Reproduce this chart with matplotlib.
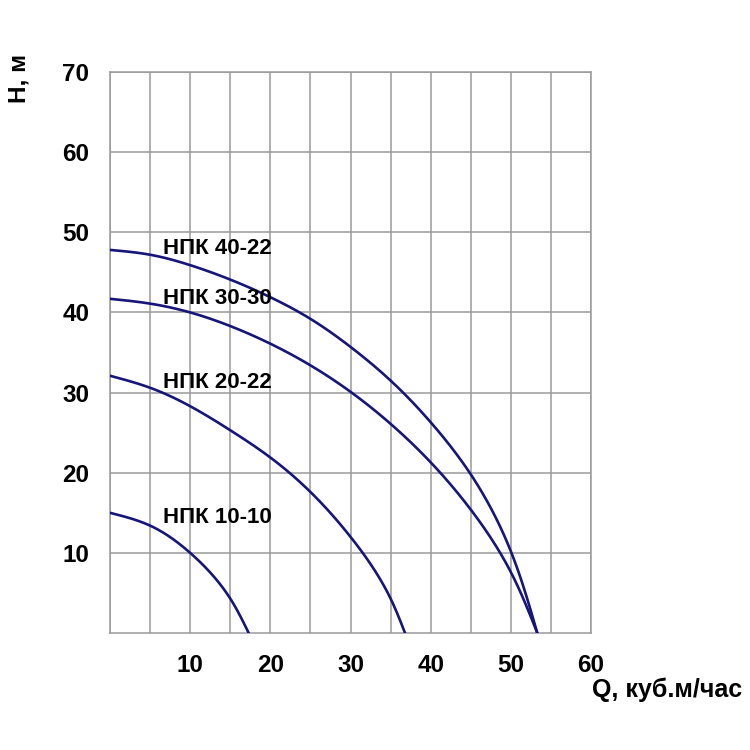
import numpy as np
import matplotlib.pyplot as plt
from matplotlib.ticker import MultipleLocator

plt.rcParams['font.family'] = ['Liberation Sans', 'DejaVu Sans']

# pump curves: Q (m3/h) -> H (m)
q_10_10 = [0, 5, 10, 15, 17.3]
h_10_10 = [15.0, 13.4, 10.0, 4.3, 0]

q_20_22 = [0, 5, 10, 15, 20, 25, 30, 35, 36.8]
h_20_22 = [32.1, 30.6, 28.3, 25.3, 21.9, 17.6, 12.0, 4.3, 0]

q_30_30 = [0, 5, 10, 15, 20, 25, 30, 35, 40, 45, 50, 53.3]
h_30_30 = [41.7, 41.1, 40.0, 38.3, 36.1, 33.4, 30.1, 26.1, 21.3, 15.4, 7.6, 0]

q_40_22 = [0, 5, 10, 15, 20, 25, 30, 35, 40, 45, 50, 53.3]
h_40_22 = [47.8, 47.2, 45.9, 44.1, 41.9, 39.2, 35.7, 31.5, 26.3, 19.8, 10.2, 0]

names = ['НПК 40-22', 'НПК 30-30', 'НПК 20-22', 'НПК 10-10']
label_pos = [(6.6, 48.0), (6.6, 41.7), (6.6, 31.3), (6.6, 14.4)]

x_ticks = [10, 20, 30, 40, 50, 60]
y_ticks = [10, 20, 30, 40, 50, 60, 70]

line_color = '#16167a'
grid_color = '#9a9a9a'


def spline(x, y, xx):
    # natural cubic spline
    k = len(x)
    h = np.diff(x)
    A = np.zeros((k, k))
    b = np.zeros(k)
    A[0, 0] = A[-1, -1] = 1
    for i in range(1, k - 1):
        A[i, i - 1] = h[i - 1]
        A[i, i] = 2 * (h[i - 1] + h[i])
        A[i, i + 1] = h[i]
        b[i] = 6 * ((y[i + 1] - y[i]) / h[i] - (y[i] - y[i - 1]) / h[i - 1])
    m = np.linalg.solve(A, b)
    j = np.clip(np.searchsorted(x, xx) - 1, 0, k - 2)
    t0 = x[j + 1] - xx
    t1 = xx - x[j]
    hj = h[j]
    return (m[j] * t0 ** 3 + m[j + 1] * t1 ** 3) / (6 * hj) \
        + (y[j] / hj - m[j] * hj / 6) * t0 + (y[j + 1] / hj - m[j + 1] * hj / 6) * t1


def smooth(xs, ys, n=400):
    # parametric spline along chord length, only for drawing the read points
    x = np.asarray(xs, float)
    y = np.asarray(ys, float)
    t = np.concatenate([[0], np.cumsum(np.hypot(np.diff(x), np.diff(y)))])
    tt = np.linspace(0, t[-1], n)
    return spline(t, x, tt), spline(t, y, tt)


fig = plt.figure(figsize=(7.5, 7.5), dpi=100)
ax = fig.add_axes([110 / 750, 1 - 633 / 750, 481 / 750, 561 / 750])

for q, h in [(q_40_22, h_40_22), (q_30_30, h_30_30), (q_20_22, h_20_22), (q_10_10, h_10_10)]:
    sx, sy = smooth(q, h)
    ax.plot(sx, sy, color=line_color, lw=1.9, zorder=3)

for name, (x, y) in zip(names, label_pos):
    ax.text(x, y, name, fontsize=16, fontweight='bold', va='center', ha='left', zorder=4)

ax.set_xlim(0, 60)
ax.set_ylim(0, 70)
ax.set_xticks(x_ticks)
ax.set_yticks(y_ticks)
ax.xaxis.set_minor_locator(MultipleLocator(5))
ax.grid(True, which='both', color=grid_color, lw=1.1)
ax.set_axisbelow(True)
for s in ax.spines.values():
    s.set_color(grid_color)
    s.set_linewidth(1.1)
ax.tick_params(which='both', length=0)
ax.tick_params(axis='x', pad=15, labelsize=17.5)
ax.tick_params(axis='y', pad=15, labelsize=17.5)
for lbl in ax.get_xticklabels() + ax.get_yticklabels():
    lbl.set_fontweight('bold')

fig.text(742 / 750, 1 - 690 / 750, 'Q, куб.м/час', fontsize=18, fontweight='bold',
         ha='right', va='center')
fig.text(19 / 750, 1 - 78 / 750, 'H, м', fontsize=17.5, fontweight='bold',
         ha='center', va='center', rotation=90)

fig.savefig('out.png', dpi=100)
